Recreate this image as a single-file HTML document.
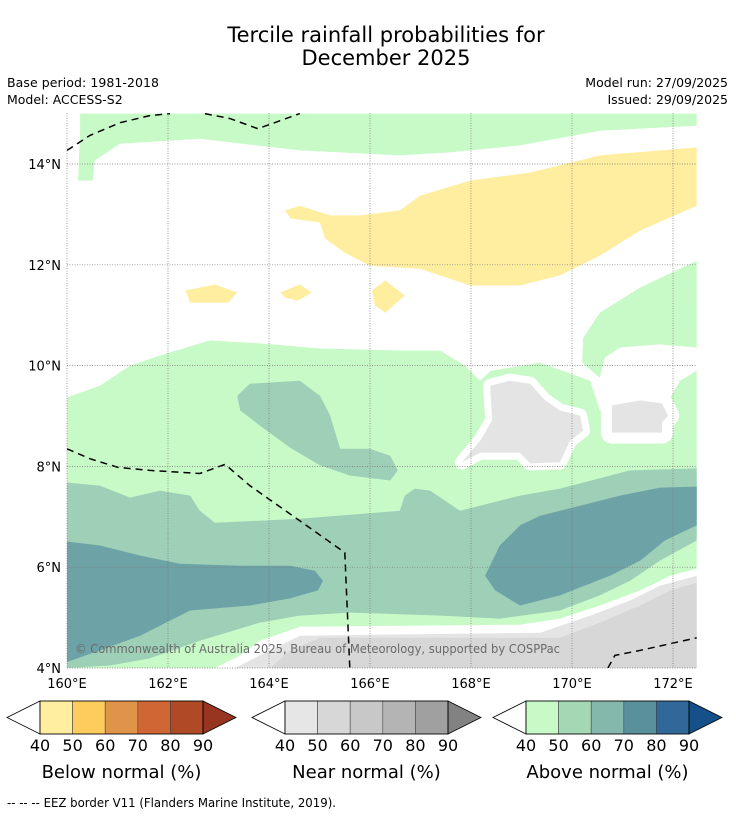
<!DOCTYPE html>
<html><head><meta charset="utf-8">
<style>
body{margin:0;background:#fff;width:736px;height:816px;overflow:hidden;font-family:"DejaVu Sans","Liberation Sans",sans-serif;}
svg text{font-family:"DejaVu Sans","Liberation Sans",sans-serif;}
</style></head>
<body>
<svg id="chart" width="736" height="816" viewBox="0 0 736 816" xmlns="http://www.w3.org/2000/svg">
<text x="386" y="42" font-size="21" text-anchor="middle" fill="#000">Tercile rainfall probabilities for</text>
<text x="386" y="65" font-size="21" text-anchor="middle" fill="#000">December 2025</text>
<text x="7" y="87" font-size="12.5" textLength="152">Base period: 1981-2018</text>
<text x="7" y="104" font-size="12.5">Model: ACCESS-S2</text>
<text x="728" y="87" font-size="12.5" text-anchor="end">Model run: 27/09/2025</text>
<text x="728" y="104" font-size="12.5" text-anchor="end">Issued: 29/09/2025</text>
<defs><clipPath id="mapclip"><rect x="67" y="113" width="630" height="555"/></clipPath></defs>
<g id="map" clip-path="url(#mapclip)"></g>
<g id="axes"></g>
<text x="75" y="653" font-size="12" fill="#6a6a6a" textLength="485" lengthAdjust="spacingAndGlyphs">© Commonwealth of Australia 2025, Bureau of Meteorology, supported by COSPPac</text>
<g id="legends"></g>
<text x="7" y="807" font-size="12" textLength="329" lengthAdjust="spacingAndGlyphs">--  --  -- EEZ border V11 (Flanders Marine Institute, 2019).</text>
</svg>
<script>
const lonTicks=[160,162,164,166,168,170,172];
const latTicks=[4,6,8,10,12,14];
const cbTicks=[40,50,60,70,80,90];
const belowColors=["#FFEDA0","#FECC5C","#E0944A","#CF6633","#B04A26","#983520"];
const nearColors=["#E6E6E6","#D7D7D7","#C8C8C8","#B4B4B4","#A0A0A0","#828282"];
const aboveColors=["#C8FAC8","#A4D8B4","#84B8AC","#5A909C","#30689A","#15508A"];
const cbTitles=["Below normal (%)","Near normal (%)","Above normal (%)"];
// contour regions [lon,lat]
const greenTop=[[160.26,15],[172.47,15],[172.47,14.76],[170.55,14.66],[168.97,14.37],[167.58,14.23],[166.59,14.17],[164.61,14.27],[162.63,14.5],[161.05,14.4],[160.55,14.07],[160.51,13.67],[160.22,13.67],[160.26,14.66]];
const greenRight=[[172.47,12.08],[171.35,11.55],[170.55,11.05],[170.22,10.55],[170.2,10.06],[170.55,9.76],[170.65,10.16],[170.95,10.36],[171.74,10.42],[172.47,10.36]];
const greenMain=[[160,9.37],[160.65,9.6],[161.25,10.0],[161.84,10.2],[162.83,10.5],[163.82,10.44],[165.01,10.34],[166.59,10.3],[167.39,10.3],[167.88,10.0],[168.18,9.7],[168.4,9.9],[169.37,10.06],[170.36,9.7],[170.55,9.11],[170.95,9.35],[171.94,9.35],[172.14,9.7],[172.47,9.9],[172.47,4],[160,4]];
const yellowMain=[[172.47,14.33],[170.55,14.17],[169.17,13.83],[167.98,13.67],[166.99,13.37],[166.59,13.08],[165.8,12.98],[165.21,12.98],[164.61,13.17],[164.32,13.08],[164.42,12.92],[165.01,12.84],[165.11,12.52],[165.5,12.24],[166.0,11.98],[166.99,11.92],[167.98,11.59],[168.97,11.59],[169.76,11.79],[170.55,12.18],[171.35,12.68],[172.47,13.17]];
const yellowA=[[162.34,11.49],[162.93,11.61],[163.37,11.45],[163.19,11.25],[162.44,11.25]];
const yellowB=[[164.22,11.45],[164.61,11.61],[164.85,11.45],[164.57,11.29],[164.32,11.35]];
const yellowC=[[166.04,11.49],[166.3,11.69],[166.69,11.39],[166.3,11.05],[166.1,11.19]];
const grayA=[[168.38,9.6],[168.77,9.7],[169.17,9.64],[169.47,9.31],[169.76,9.11],[170.16,9.01],[170.22,8.71],[169.96,8.51],[169.76,8.08],[169.17,8.06],[168.97,8.27],[168.18,8.27],[167.82,8.08],[168.18,8.51],[168.42,8.91]];
const grayB=[[170.79,9.21],[171.35,9.31],[171.78,9.25],[171.9,9.01],[171.78,8.87],[171.78,8.67],[170.79,8.67]];
const medBlob=[[163.37,9.4],[163.62,9.64],[164.61,9.7],[165.01,9.4],[165.21,9.01],[165.41,8.35],[166.0,8.35],[166.4,8.21],[166.55,7.92],[166.4,7.72],[165.6,7.82],[165.01,8.02],[164.42,8.37],[163.82,8.81],[163.43,9.11]];
const medBand=[[160,7.68],[160.65,7.62],[161.25,7.38],[161.84,7.52],[162.44,7.42],[162.63,7.12],[162.93,6.88],[164.61,6.96],[166.59,7.12],[166.69,7.42],[166.89,7.56],[167.19,7.52],[167.49,7.32],[167.78,7.12],[168.97,7.42],[169.76,7.56],[171.15,7.92],[172.47,7.96],[172.47,6.53],[171.74,6.13],[171.15,5.73],[170.55,5.44],[169.76,5.14],[168.57,4.98],[167.39,5.04],[165.6,5.1],[164.61,5.04],[163.82,4.9],[162.63,4.54],[161.64,4.19],[160.85,4.05],[160,4]];
const darkLeft=[[160,6.51],[160.65,6.43],[161.45,6.23],[162.24,6.07],[163.43,6.03],[164.42,6.03],[164.91,5.93],[165.07,5.73],[164.97,5.54],[164.42,5.38],[163.62,5.24],[162.44,5.14],[162.04,4.94],[161.45,4.64],[160.65,4.35],[160,4.12]];
const darkRight=[[172.47,7.6],[171.74,7.58],[170.95,7.42],[170.16,7.22],[169.37,7.02],[168.97,6.83],[168.57,6.43],[168.28,5.83],[168.48,5.54],[168.97,5.24],[169.76,5.44],[170.75,5.83],[171.35,6.13],[171.84,6.53],[172.47,6.83]];
const whiteBottom=[[162.93,4],[163.43,4.25],[163.82,4.54],[164.61,4.82],[168.97,4.86],[169.76,4.98],[170.55,5.24],[171.35,5.54],[171.94,5.83],[172.47,5.97],[172.47,4]];
const lightGrayBottom=[[163.33,4],[163.82,4.25],[164.61,4.64],[169.37,4.7],[170.36,5.04],[171.15,5.34],[171.74,5.63],[172.47,5.83],[172.47,4]];
const grayBottom=[[164.02,4],[164.42,4.35],[165.01,4.6],[169.76,4.6],[170.55,4.9],[171.35,5.24],[171.94,5.54],[172.47,5.69],[172.47,4]];
const eez1=[[160,14.27],[160.46,14.57],[161.05,14.82],[161.64,14.96],[162.04,15.0]];
const eez2=[[162.73,15],[163.23,14.9],[163.78,14.7],[164.22,14.86],[164.61,15]];
const eez3=[[160,8.35],[160.46,8.15],[161.01,7.98],[161.64,7.92],[162.63,7.86],[163.13,8.04],[163.62,7.62],[164.61,6.92],[165.5,6.29],[165.6,4]];
const eez4=[[170.71,4],[170.85,4.25],[171.35,4.35],[172.47,4.6]];

const NS="http://www.w3.org/2000/svg";
const x=lon=>67+(lon-160)*50.5;
const y=lat=>668-(lat-4)*50.4;
const pts=a=>a.map(p=>x(p[0]).toFixed(1)+","+y(p[1]).toFixed(1)).join(" ");
const map=document.getElementById("map");
function poly(arr,fill,name,stroke,sw){
  const el=document.createElementNS(NS,"polygon");
  el.setAttribute("points",pts(arr));
  el.setAttribute("fill",fill);
  if(stroke){el.setAttribute("stroke",stroke);el.setAttribute("stroke-width",sw);el.setAttribute("stroke-linejoin","round");}
  
  
  map.appendChild(el);
}
poly(greenTop,"#C8FAC8","above-normal-40-top");
poly(greenRight,"#C8FAC8","above-normal-40-right");
poly(greenMain,"#C8FAC8","above-normal-40-main");
poly(yellowMain,"#FFEDA0","below-normal-40-main");
poly(yellowA,"#FFEDA0","below-normal-40-blob-a");
poly(yellowB,"#FFEDA0","below-normal-40-blob-b");
poly(yellowC,"#FFEDA0","below-normal-40-blob-c");
poly(grayA,"#fff","near-normal-gap-a","#fff",14);
poly(grayB,"#fff","near-normal-gap-b","#fff",22);
poly(grayA,"#E4E4E4","near-normal-40-a");
poly(grayB,"#E4E4E4","near-normal-40-b");
poly(medBlob,"#9ED0B8","above-normal-50-blob");
poly(medBand,"#9ED0B8","above-normal-50-band");
poly(darkLeft,"#6DA2A6","above-normal-60-left");
poly(darkRight,"#6DA2A6","above-normal-60-right");
poly(whiteBottom,"#fff","near-normal-gap-bottom");
poly(lightGrayBottom,"#E4E4E4","near-normal-40-bottom");
poly(grayBottom,"#D7D7D7","near-normal-50-bottom");
[eez1,eez2,eez3,eez4].forEach((a,i)=>{
  const el=document.createElementNS(NS,"polyline");
  el.setAttribute("points",pts(a));
  el.setAttribute("fill","none");el.setAttribute("stroke","#000");
  el.setAttribute("stroke-width","1.5");el.setAttribute("stroke-dasharray","7,5");
  
  
  map.appendChild(el);
});
// grid & axes
const axes=document.getElementById("axes");
lonTicks.forEach(l=>{
  const g=document.createElementNS(NS,"line");
  g.setAttribute("x1",x(l));g.setAttribute("x2",x(l));g.setAttribute("y1",113);g.setAttribute("y2",668);
  g.setAttribute("stroke","#777");g.setAttribute("stroke-width","0.7");g.setAttribute("stroke-dasharray","1,1.5");
  
  
  axes.appendChild(g);
  const t=document.createElementNS(NS,"text");
  t.setAttribute("x",x(l));t.setAttribute("y",688);t.setAttribute("font-size","13");t.setAttribute("text-anchor","middle");
  t.textContent=l+"°E";
  
  
  axes.appendChild(t);
});
latTicks.forEach(l=>{
  const g=document.createElementNS(NS,"line");
  g.setAttribute("x1",67);g.setAttribute("x2",697);g.setAttribute("y1",y(l));g.setAttribute("y2",y(l));
  g.setAttribute("stroke","#777");g.setAttribute("stroke-width","0.7");g.setAttribute("stroke-dasharray","1,1.5");
  
  
  axes.appendChild(g);
  const t=document.createElementNS(NS,"text");
  t.setAttribute("x",61);t.setAttribute("y",y(l)+5);t.setAttribute("font-size","13");t.setAttribute("text-anchor","end");
  t.textContent=l+"°N";
  
  
  axes.appendChild(t);
});
// colorbars
const leg=document.getElementById("legends");
const starts=[40,285,526];
[belowColors,nearColors,aboveColors].forEach((cols,k)=>{
  const x0=starts[k],w=163/5,y0=701,h=33;
  const lt=document.createElementNS(NS,"polygon");
  lt.setAttribute("points",`${x0},${y0} ${x0-33},${y0+h/2} ${x0},${y0+h}`);
  lt.setAttribute("fill","#fff");lt.setAttribute("stroke","#000");lt.setAttribute("stroke-width","0.8");
  
  
  leg.appendChild(lt);
  for(let i=0;i<5;i++){
    const r=document.createElementNS(NS,"rect");
    r.setAttribute("x",x0+i*w);r.setAttribute("y",y0);r.setAttribute("width",w);r.setAttribute("height",h);
    r.setAttribute("fill",cols[i]);r.setAttribute("stroke","#444");r.setAttribute("stroke-width","0.6");
    
    
    leg.appendChild(r);
  }
  const rt=document.createElementNS(NS,"polygon");
  rt.setAttribute("points",`${x0+163},${y0} ${x0+196},${y0+h/2} ${x0+163},${y0+h}`);
  rt.setAttribute("fill",cols[5]);rt.setAttribute("stroke","#000");rt.setAttribute("stroke-width","0.8");
  
  
  leg.appendChild(rt);
  const fr=document.createElementNS(NS,"rect");
  fr.setAttribute("x",x0);fr.setAttribute("y",y0);fr.setAttribute("width",163);fr.setAttribute("height",h);
  fr.setAttribute("fill","none");fr.setAttribute("stroke","#000");fr.setAttribute("stroke-width","0.8");
  
  
  leg.appendChild(fr);
  cbTicks.forEach((v,i)=>{
    const t=document.createElementNS(NS,"text");
    t.setAttribute("x",x0+i*w);t.setAttribute("y",751);t.setAttribute("font-size","16");t.setAttribute("text-anchor","middle");
    t.textContent=v;
    
    
    leg.appendChild(t);
  });
  const tt=document.createElementNS(NS,"text");
  tt.setAttribute("x",x0+81.5);tt.setAttribute("y",778);tt.setAttribute("font-size","18");tt.setAttribute("text-anchor","middle");
  tt.textContent=cbTitles[k];
  
  
  leg.appendChild(tt);
});
</script>
</body></html>
